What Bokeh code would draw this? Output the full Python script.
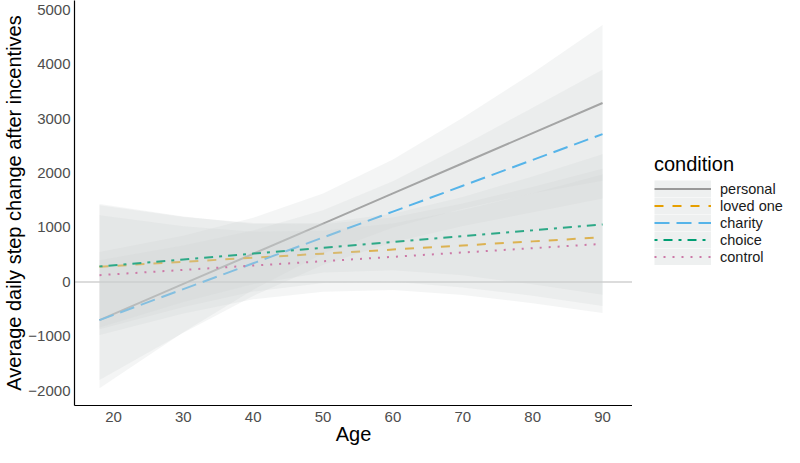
from bokeh.plotting import figure
from bokeh.layouts import row
from bokeh.models import Legend, LegendItem, Span, FixedTicker, ColumnDataSource
from bokeh.embed import file_html
from bokeh.resources import INLINE

# ---- data ----
ages = [18, 30, 40, 50, 60, 70, 80, 90]

conditions = ["personal", "loved one", "charity", "choice", "control"]

personal_mean = [-700, -36, 518, 1072, 1625, 2179, 2733, 3286]
personal_low = [-1950, -921, -141, 521, 1000, 1345, 1629, 1856]
personal_high = [550, 849, 1177, 1623, 2250, 3013, 3837, 4716]

loved_mean = [280, 370, 445, 520, 595, 670, 745, 820]
loved_low = [-870, -460, -175, -20, 5, -100, -255, -440]
loved_high = [1430, 1200, 1065, 1060, 1185, 1440, 1745, 2080]

charity_mean = [-700, -131, 343, 817, 1291, 1766, 2240, 2714]
charity_low = [-1800, -931, -257, 317, 731, 1026, 1280, 1534]
charity_high = [400, 669, 943, 1317, 1851, 2506, 3200, 3894]

choice_mean = [286, 414, 521, 627, 734, 841, 947, 1054]
choice_low = [-838, -366, -39, 172, 214, 121, -43, -236]
choice_high = [1410, 1194, 1081, 1082, 1254, 1561, 1937, 2344]

control_mean = [125, 221, 301, 381, 461, 541, 620, 700]
control_low = [-975, -579, -319, -179, -149, -239, -390, -571]
control_high = [1225, 1021, 921, 941, 1071, 1321, 1630, 1971]

x_ticks = [20, 30, 40, 50, 60, 70, 80, 90]
y_ticks = [-2000, -1000, 0, 1000, 2000, 3000, 4000, 5000]

means = [personal_mean, loved_mean, charity_mean, choice_mean, control_mean]
lows = [personal_low, loved_low, charity_low, choice_low, control_low]
highs = [personal_high, loved_high, charity_high, choice_high, control_high]

# ---- styles ----
colors = ["#999999", "#E69F00", "#56B4E9", "#009E73", "#CC79A7"]
dashes = ["solid", "9 9", "15 7", "3 6 9 6", "2 7"]
FONT = "Liberation Sans"

p = figure(width=632, height=447,
           x_range=(14.42, 94.29), y_range=(-2268, 5167),
           output_backend="svg", toolbar_location=None,
           min_border_left=65, min_border_right=0,
           min_border_top=0, min_border_bottom=39)

p.outline_line_color = None
p.xgrid.visible = False
p.ygrid.visible = False
p.background_fill_color = "white"

p.add_layout(Span(location=0, dimension="width", line_color="#d0d0d0",
                  line_width=1.5, level="underlay"))

# legend panel as a second, axis-less figure
lg = figure(width=152, height=447, x_range=(0, 1), y_range=(0, 1),
            output_backend="svg", toolbar_location=None,
            min_border_left=0, min_border_right=0,
            min_border_top=0, min_border_bottom=0)
lg.axis.visible = False
lg.xgrid.visible = False
lg.ygrid.visible = False
lg.outline_line_color = None

items = []
for name, m, lo, hi, c, d in zip(conditions, means, lows, highs, colors, dashes):
    src = ColumnDataSource(dict(age=ages, mean=m, low=lo, high=hi))
    p.varea(x="age", y1="low", y2="high", source=src,
            fill_color="#cdd2d2", fill_alpha=0.22)
    p.line(x="age", y="mean", source=src, line_color=c,
           line_width=2, line_dash=d, line_cap="butt")
    # same data in the legend figure, outside its view: only the keys show
    key_bg = lg.line(x="age", y="mean", source=src, line_color="#eef0f0",
                     line_width=17, line_cap="butt")
    key_ln = lg.line(x="age", y="mean", source=src, line_color=c,
                     line_width=2, line_dash=d, line_cap="butt")
    items.append(LegendItem(label=name, renderers=[key_bg, key_ln]))

legend = Legend(items=items, location=(22, 140), title="condition")
legend.title_text_font = FONT
legend.title_text_font_size = "20px"
legend.title_text_font_style = "normal"
legend.title_text_color = "black"
legend.title_standoff = 4
legend.label_text_font = FONT
legend.label_text_font_size = "14.5px"
legend.label_text_color = "#1a1a1a"
legend.label_standoff = 9
legend.glyph_width = 57
legend.glyph_height = 17
legend.label_height = 17
legend.spacing = 0
legend.padding = 0
legend.margin = 0
legend.border_line_alpha = 0
legend.background_fill_alpha = 0
lg.add_layout(legend)

for ax in (p.xaxis[0], p.yaxis[0]):
    ax.axis_line_color = "black"
    ax.axis_line_width = 1.2
    ax.major_tick_line_color = None
    ax.minor_tick_line_color = None
    ax.major_tick_out = 0
    ax.major_tick_in = 0
    ax.major_label_text_font = FONT
    ax.major_label_text_font_size = "15px"
    ax.major_label_text_color = "#4d4d4d"
    ax.axis_label_text_font = FONT
    ax.axis_label_text_font_size = "20px"
    ax.axis_label_text_font_style = "normal"
    ax.axis_label_text_color = "black"

p.xaxis.ticker = FixedTicker(ticks=x_ticks)
p.yaxis.ticker = FixedTicker(ticks=y_ticks)
p.xaxis.axis_label = "Age"
p.yaxis.axis_label = "Average daily step change after incentives"
p.xaxis.major_label_standoff = 6
p.xaxis.axis_label_standoff = -2
p.yaxis.major_label_standoff = 4
p.yaxis.axis_label_standoff = 0

layout = row(p, lg)
open("out.html", "w").write(file_html(layout, INLINE))
